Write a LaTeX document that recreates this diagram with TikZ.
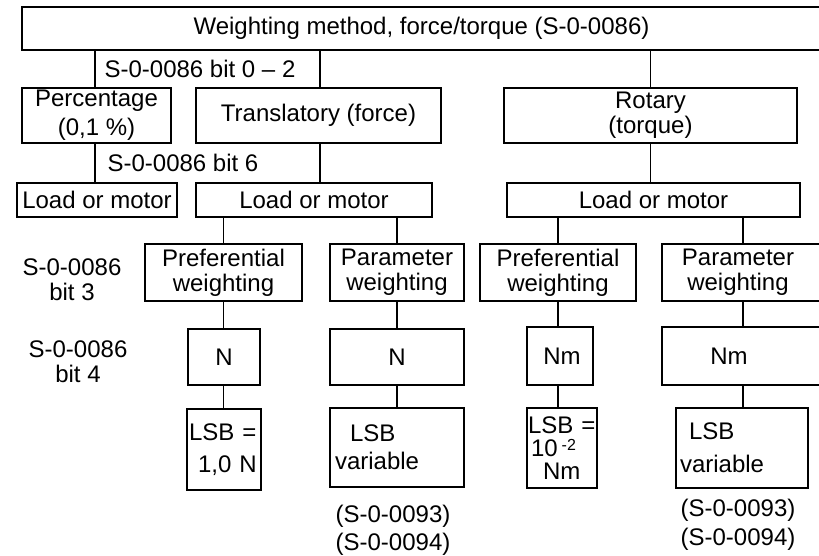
\documentclass[tikz,border=0pt]{standalone}
\usepackage{fontspec}
\setmainfont{Liberation Sans}
\usepackage{tikz}
\usetikzlibrary{positioning}

\begin{document}
\begin{tikzpicture}[
  x=1pt,y=-1pt,
  font=\fontsize{24}{25}\selectfont,
  blk/.style 2 args={draw,line width=1.5pt,inner sep=0pt,minimum width=#1pt,minimum height=#2pt,align=center},
  lsb/.style 2 args={draw,line width=1.5pt,inner sep=0pt,text width=#1pt,minimum height=#2pt,align=left},
  lbl/.style={inner sep=0pt,align=center},
  link/.style={line width=1.5pt}
]
\useasboundingbox (0,0) rectangle (819,556);
% level 1 and 2
\node[blk={799}{43}] (top) at (421.5,28.5) {Weighting method, force/torque (S-0-0086)};
\node[blk={149}{55},font=\fontsize{24}{29}\selectfont] (pct) at (96.5,115.5) {Percentage\\(0,1 \%)};
\node[blk={245}{55}] (trans) at (318.5,115.5) {Translatory (force)};
\node[blk={293}{55}] (rot) at (650.5,115.5) {Rotary\\(torque)};
\node[lbl] (b02) at (200,69) {S-0-0086 bit 0 -- 2};
\node[lbl] (b6) at (183,163) {S-0-0086 bit 6};
% load or motor
\node[blk={160}{34}] (lm1) at (97,200) {Load or motor};
\node[blk={236}{34}] (lm2) at (314,200) {Load or motor};
\node[blk={293}{34}] (lm3) at (653.5,200) {Load or motor};
% weighting
\node[lbl] (b3) at (72,280) {S-0-0086\\bit 3};
\node[blk={157}{57}] (pw1) at (223.5,272.5) {Preferential\\weighting};
\node[blk={134}{57}] (prm1) at (397,272.5) {Parameter\\weighting};
\node[blk={156}{57}] (pw2) at (558,272.5) {Preferential\\weighting};
\node[blk={160}{57}] (prm2) at (742,272.5) {\hspace*{-8pt}Parameter\\\hspace*{-8pt}weighting};
% units
\node[lbl] (b4) at (78,362) {S-0-0086\\bit 4};
\node[blk={72}{56}] (n1) at (224,357) {N};
\node[blk={134}{56}] (n2) at (397,357) {N};
\node[blk={66}{58}] (nm1) at (560,356) {\hspace*{4pt}Nm};
\node[blk={160}{58}] (nm2) at (742,356) {\hspace*{-26pt}Nm};
% LSB
\node[lsb={74}{81},font=\fontsize{24}{32}\selectfont] (lsb1) at (224,449.5) {\hspace*{2pt}LSB =\\\hspace*{11pt}1,0 N};
\node[lsb={134}{79},font=\fontsize{24}{28}\selectfont] (lsbv1) at (397,447.5) {\hspace*{20pt}LSB\\\hspace*{5pt}variable};
\node[lsb={70}{80},font=\fontsize{24}{23}\selectfont] (lsb2) at (562,448) {\hspace*{1pt}LSB =\\\hspace*{4pt}10\,{\fontsize{16}{16}\selectfont\raisebox{6pt}{-2}}\\\hspace*{16pt}Nm};
\node[lsb={132}{80},font=\fontsize{24}{33}\selectfont] (lsbv2) at (742,448) {\hspace*{13pt}LSB\\\hspace*{4pt}variable};
\node[lbl,font=\fontsize{24}{28}\selectfont] (ref1) at (393,530) {(S-0-0093)\\(S-0-0094)};
\node[lbl,font=\fontsize{24}{29}\selectfont] (ref2) at (738,525) {(S-0-0093)\\(S-0-0094)};
% connectors
\draw[link] ([xshift=-1.5pt]pct.north) -- ([xshift=-1.5pt]pct.north |- top.south);
\draw[link] ([xshift=1.5pt]trans.north) -- ([xshift=1.5pt]trans.north |- top.south);
\draw[link] (rot.north) -- (rot.north |- top.south);
\draw[link] ([xshift=-1.5pt]pct.south) -- ([xshift=-1.5pt]pct.south |- lm1.north);
\draw[link] ([xshift=1.5pt]trans.south) -- ([xshift=1.5pt]trans.south |- lm2.north);
\draw[link] (rot.south) -- (rot.south |- lm3.north);
\draw[link] (pw1.north |- lm2.south) -- (pw1.north);
\draw[link] (prm1.north |- lm2.south) -- (prm1.north);
\draw[link] (pw2.north |- lm3.south) -- (pw2.north);
\draw[link] ([xshift=1pt]prm2.north |- lm3.south) -- ([xshift=1pt]prm2.north);
\draw[link] (pw1.south) -- (pw1.south |- n1.north);
\draw[link] (prm1.south) -- (prm1.south |- n2.north);
\draw[link] (pw2.south) -- (pw2.south |- nm1.north);
\draw[link] ([xshift=1pt]prm2.south) -- ([xshift=1pt]prm2.south |- nm2.north);
\draw[link] (pw1.south |- n1.south) -- (pw1.south |- lsb1.north);
\draw[link] (prm1.south |- n2.south) -- (prm1.south |- lsbv1.north);
\draw[link] (pw2.south |- nm1.south) -- (pw2.south |- lsb2.north);
\draw[link] ([xshift=1pt]prm2.south |- nm2.south) -- ([xshift=1pt]prm2.south |- lsbv2.north);
\end{tikzpicture}
\end{document}
